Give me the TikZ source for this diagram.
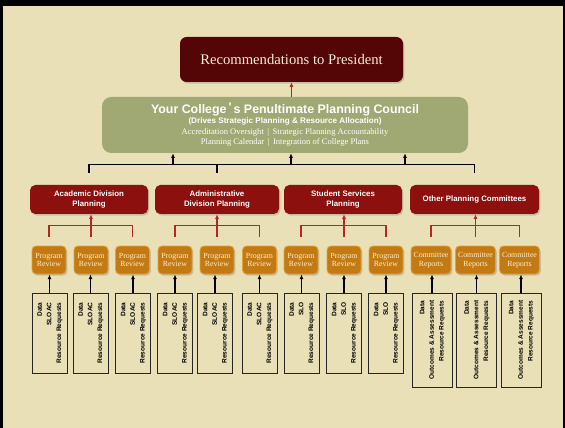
\documentclass[tikz,border=0pt]{standalone}
\usepackage{fontspec}
\setmainfont{Liberation Serif}
\setsansfont{Liberation Sans}
\usepackage{graphicx}
\usetikzlibrary{arrows.meta,calc,shadows}
\definecolor{parch}{RGB}{234,224,184}
\definecolor{maroon}{RGB}{84,6,6}
\definecolor{divred}{RGB}{140,16,14}
\definecolor{prfill}{RGB}{196,122,18}
\definecolor{prborder}{RGB}{226,164,60}
\definecolor{council}{RGB}{160,168,116}
\definecolor{cream}{RGB}{250,238,210}
\definecolor{redline}{RGB}{180,40,36}
\tikzset{
  shad/.style={drop shadow={opacity=0.35,shadow xshift=1pt,shadow yshift=-1.2pt}},
  recbox/.style={shad,fill=maroon,rounded corners=5pt,minimum width=167.25pt,minimum height=33.75pt,inner sep=0pt,text=cream,font=\fontsize{11}{13}\selectfont},
  councilbox/.style={fill=council,rounded corners=7pt,minimum width=274.5pt,minimum height=42pt,inner sep=0pt,text=white,align=center,font=\fontsize{6.4}{8.1}\selectfont},
  divbox/.style={shad,fill=divred,rounded corners=4pt,minimum height=21.75pt,inner sep=0pt,text=white,align=center,font=\sffamily\bfseries\fontsize{5.9}{7.4}\selectfont},
  prbox/.style={shad,fill=prfill,draw=prborder,line width=0.6pt,rounded corners=3pt,minimum width=#1,minimum height=21pt,inner sep=0pt,text=cream,align=center,font=\fontsize{5.9}{6.4}\selectfont},
  prbox/.default=25.5pt,
  docbox/.style={draw=black!85,line width=0.7pt,fill=parch,minimum width=#1,inner sep=0pt,font=\sffamily\bfseries\fontsize{4.9}{7.2}\selectfont},
  redc/.style={draw=redline,line width=0.9pt},
  blk/.style={draw=black,line width=0.8pt},
  upar/.style={-{Latex[length=3.5pt,width=3pt]}}
}
\newcommand{\docA}{\rotatebox{90}{\begin{tabular}{@{}r@{}}Data\\SLOAC\\Resource Requests\end{tabular}}}
\newcommand{\docB}{\rotatebox{90}{\begin{tabular}{@{}r@{}}Data\\SLO\\Resource Requests\end{tabular}}}
\newcommand{\docC}{\rotatebox{90}{\begin{tabular}{@{}r@{}}Data\\Outcomes \& Assessment\\Resource Requests\end{tabular}}}
\begin{document}
\begin{tikzpicture}[x=0.75pt,y=-0.75pt]
\fill[black] (0,0) rectangle (565,428);
\fill[parch] (3,6) rectangle (563,428);
\useasboundingbox (0,0) rectangle (565,428);

\node[recbox] (rec) at (291.5,59.5) {Recommendations to President};
\node[councilbox] (coun) at (285,125) {%
  {\sffamily\bfseries\fontsize{9.3}{10}\selectfont Your College\,\raisebox{0.3ex}{\textquotesingle}\,s Penultimate Planning Council}\\[-1pt]
  {\sffamily\bfseries\fontsize{6.1}{7}\selectfont (Drives Strategic Planning \& Resource Allocation)}\\
  Accreditation Oversight \,|\, Strategic Planning Accountability\\
  Planning Calendar \,|\, Integration of College Plans};
\draw[redc,upar] (coun.north -| rec.south) coordinate (cn) -- (rec.south);

\node[divbox,minimum width=88.5pt] (acad) at (89,199.5) {Academic Division\\Planning};
\node[divbox,minimum width=93pt] (admin) at (217,199.5) {Administrative\\Division Planning};
\node[divbox,minimum width=88.5pt] (stud) at (343,199.5) {Student Services\\Planning};
\node[divbox,minimum width=96.75pt] (other) at (474.5,199.5) {Other Planning Committees};

% council bracket
\coordinate (bl) at ($(acad.north)+(0,-12)$);
\coordinate (br) at ($(other.north)+(0,-12)$);
\coordinate (bm) at ($(admin.north)+(0,-12)$);
\draw[blk] (bl) -- ++(0,-8) -| (br);
\draw[blk] (bm) -- ++(0,-8);
\coordinate (u1) at (173,165);
\coordinate (u2) at (291,165);
\coordinate (u3) at (405,165);
\draw[blk,upar] (u1) -- (u1 |- coun.south);
\draw[blk,upar] (u2) -- (u2 |- coun.south);
\draw[blk,upar] (u3) -- (u3 |- coun.south);

% program reviews
\foreach \n/\x in {p1/49,p2/91,p3/132.5,p4/175,p5/217,p6/259.5,p7/301,p8/344,p9/386}{
  \node[prbox] (\n) at (\x,260) {Program\\Review};
}
\foreach \n/\x in {c1/431,c2/475.5,c3/519.5}{
  \node[prbox=30pt] (\n) at (\x,260) {Committee\\Reports};
}

% red brackets
\foreach \a/\b/\c/\d in {p1/p2/p3/acad,p4/p5/p6/admin,p7/p8/p9/stud,c1/c2/c3/other}{
  \draw[redc] ($(\a.north)+(0,-9)$) |- ($(\c.north)+(0,-20)$) -- ($(\c.north)+(0,-9)$);
  \draw[redc,upar] ($(\b.north)+(0,-9)$) -- (\b.north |- \d.south);
}

% documents
\foreach \n/\x/\p in {d1/49.5/p1,d2/90.5/p2,d3/133/p3,d4/175/p4,d5/215/p5,d6/259.5/p6}{
  \node[docbox=26.25pt,minimum height=60pt] (\n) at (\x,333) {\docA};
  \draw[blk,upar] (\n.north) -- (\n.north |- \p.south);
}
\foreach \n/\x/\p in {d7/301.5/p7,d8/344/p8,d9/386/p9}{
  \node[docbox=26.25pt,minimum height=60pt] (\n) at (\x,333) {\docB};
  \draw[blk,upar] (\n.north) -- (\n.north |- \p.south);
}
\foreach \n/\x/\p in {e1/432/c1,e2/476.5/c2,e3/521/c3}{
  \node[docbox=30pt,minimum height=70.5pt] (\n) at (\x,340) {\docC};
  \draw[blk,upar] (\n.north) -- (\n.north |- \p.south);
}
\end{tikzpicture}
\end{document}
